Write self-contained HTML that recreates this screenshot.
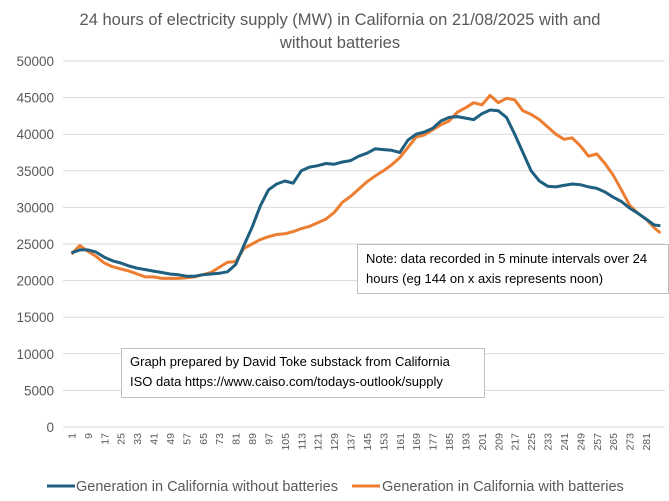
<!DOCTYPE html>
<html><head><meta charset="utf-8"><style>
body{margin:0;background:#fff;}
svg{display:block;font-family:"Liberation Sans",sans-serif;}
</style></head><body>
<svg id="chart" width="669" height="501">
<text x="340" y="25" text-anchor="middle" font-size="16.5" fill="#595959">24 hours of electricity supply (MW) in California on 21/08/2025 with and</text>
<text x="340" y="48" text-anchor="middle" font-size="16.5" fill="#595959">without batteries</text>
<g id="grid"></g><g id="ylabels"></g><g id="xlabels"></g><g id="series"></g>
<rect x="357.5" y="244.5" width="311" height="49" fill="#fff" stroke="#bfbfbf"/>
<text x="366" y="263" font-size="13" fill="#000">Note: data recorded in 5 minute intervals over 24</text>
<text x="366" y="283" font-size="13" fill="#000">hours (eg 144 on x axis represents noon)</text>
<rect x="121.5" y="348.5" width="363" height="49" fill="#fff" stroke="#bfbfbf"/>
<text x="130" y="366" font-size="13" fill="#000">Graph prepared by David Toke substack from California</text>
<text x="130" y="386" font-size="13" fill="#000">ISO data https://www.caiso.com/todays-outlook/supply</text>
<g>
<line x1="47" y1="486" x2="75" y2="486" stroke="#1f5f7f" stroke-width="3"/>
<text x="76" y="491" font-size="14.5" fill="#595959">Generation in California without batteries</text>
<line x1="352" y1="486" x2="380" y2="486" stroke="#ed7d31" stroke-width="3"/>
<text x="382" y="491" font-size="14.5" fill="#595959">Generation in California with batteries</text>
</g>
</svg>
<script>
const idx=[1,5,9,13,17,21,25,29,33,37,41,45,49,53,57,61,65,69,73,77,81,85,89,93,97,101,105,109,113,117,121,125,129,133,137,141,145,149,153,157,161,165,169,173,177,181,185,189,193,197,201,205,209,213,217,221,225,229,233,237,241,245,249,253,257,261,265,269,273,277,281,285,288];
const noBatt=[23800,24200,24200,23900,23200,22700,22400,22000,21700,21500,21300,21100,20900,20800,20600,20600,20800,20900,21000,21200,22200,24800,27300,30200,32400,33200,33600,33300,35000,35500,35700,36000,35900,36200,36400,37000,37400,38000,37900,37800,37500,39200,40000,40300,40800,41800,42300,42400,42200,42000,42800,43300,43200,42300,40000,37500,35000,33600,32900,32800,33000,33200,33100,32800,32600,32100,31400,30800,29900,29200,28400,27600,27500];
const withBatt=[23600,24800,24000,23300,22400,21900,21600,21300,20900,20500,20500,20300,20300,20300,20400,20500,20800,21100,21800,22500,22600,24400,25000,25600,26000,26300,26400,26700,27100,27400,27900,28400,29300,30700,31500,32500,33500,34300,35000,35800,36800,38200,39600,39900,40600,41300,41800,43000,43600,44300,44000,45300,44300,44900,44700,43200,42700,42000,41000,40000,39300,39500,38400,37000,37300,36000,34400,32400,30300,29200,28400,27200,26500];
const yTicks=[0,5000,10000,15000,20000,25000,30000,35000,40000,45000,50000];
const xTickLabels=[];for(let i=1;i<=281;i+=8)xTickLabels.push(i);
const NS="http://www.w3.org/2000/svg";
const X=i=>71.5+(i-1)*2.052;
const Y=v=>427-v/50000*366;
function mk(t,a,p){const e=document.createElementNS(NS,t);for(const k in a)e.setAttribute(k,a[k]);p.appendChild(e);return e;}
const g=document.getElementById('grid'),yl=document.getElementById('ylabels'),xl=document.getElementById('xlabels'),s=document.getElementById('series');
yTicks.forEach(v=>{
 const l=mk('line',{x1:63,x2:665,y1:Y(v),y2:Y(v),stroke:'#d9d9d9','stroke-width':1},g);
 
 
 const t=mk('text',{x:54,y:Y(v)+5,'text-anchor':'end','font-size':13.5,fill:'#595959'},yl);
 t.textContent=v;
 
 
});
xTickLabels.forEach(i=>{
 const t=mk('text',{transform:`translate(${X(i)+4},433) rotate(-90)`,'text-anchor':'end','font-size':10.5,fill:'#595959'},xl);
 t.textContent=i;
 
 
});
function line(vals,col,name){
 const p=mk('path',{d:vals.map((v,k)=>(k?'L':'M')+X(idx[k]).toFixed(1)+','+Y(v).toFixed(1)).join(''),fill:'none',stroke:col,'stroke-width':3,'stroke-linejoin':'round'},s);
 
 
}
line(withBatt,'#ed7d31','series-with-batteries');
line(noBatt,'#1f5f7f','series-without-batteries');
</script>
</body></html>
